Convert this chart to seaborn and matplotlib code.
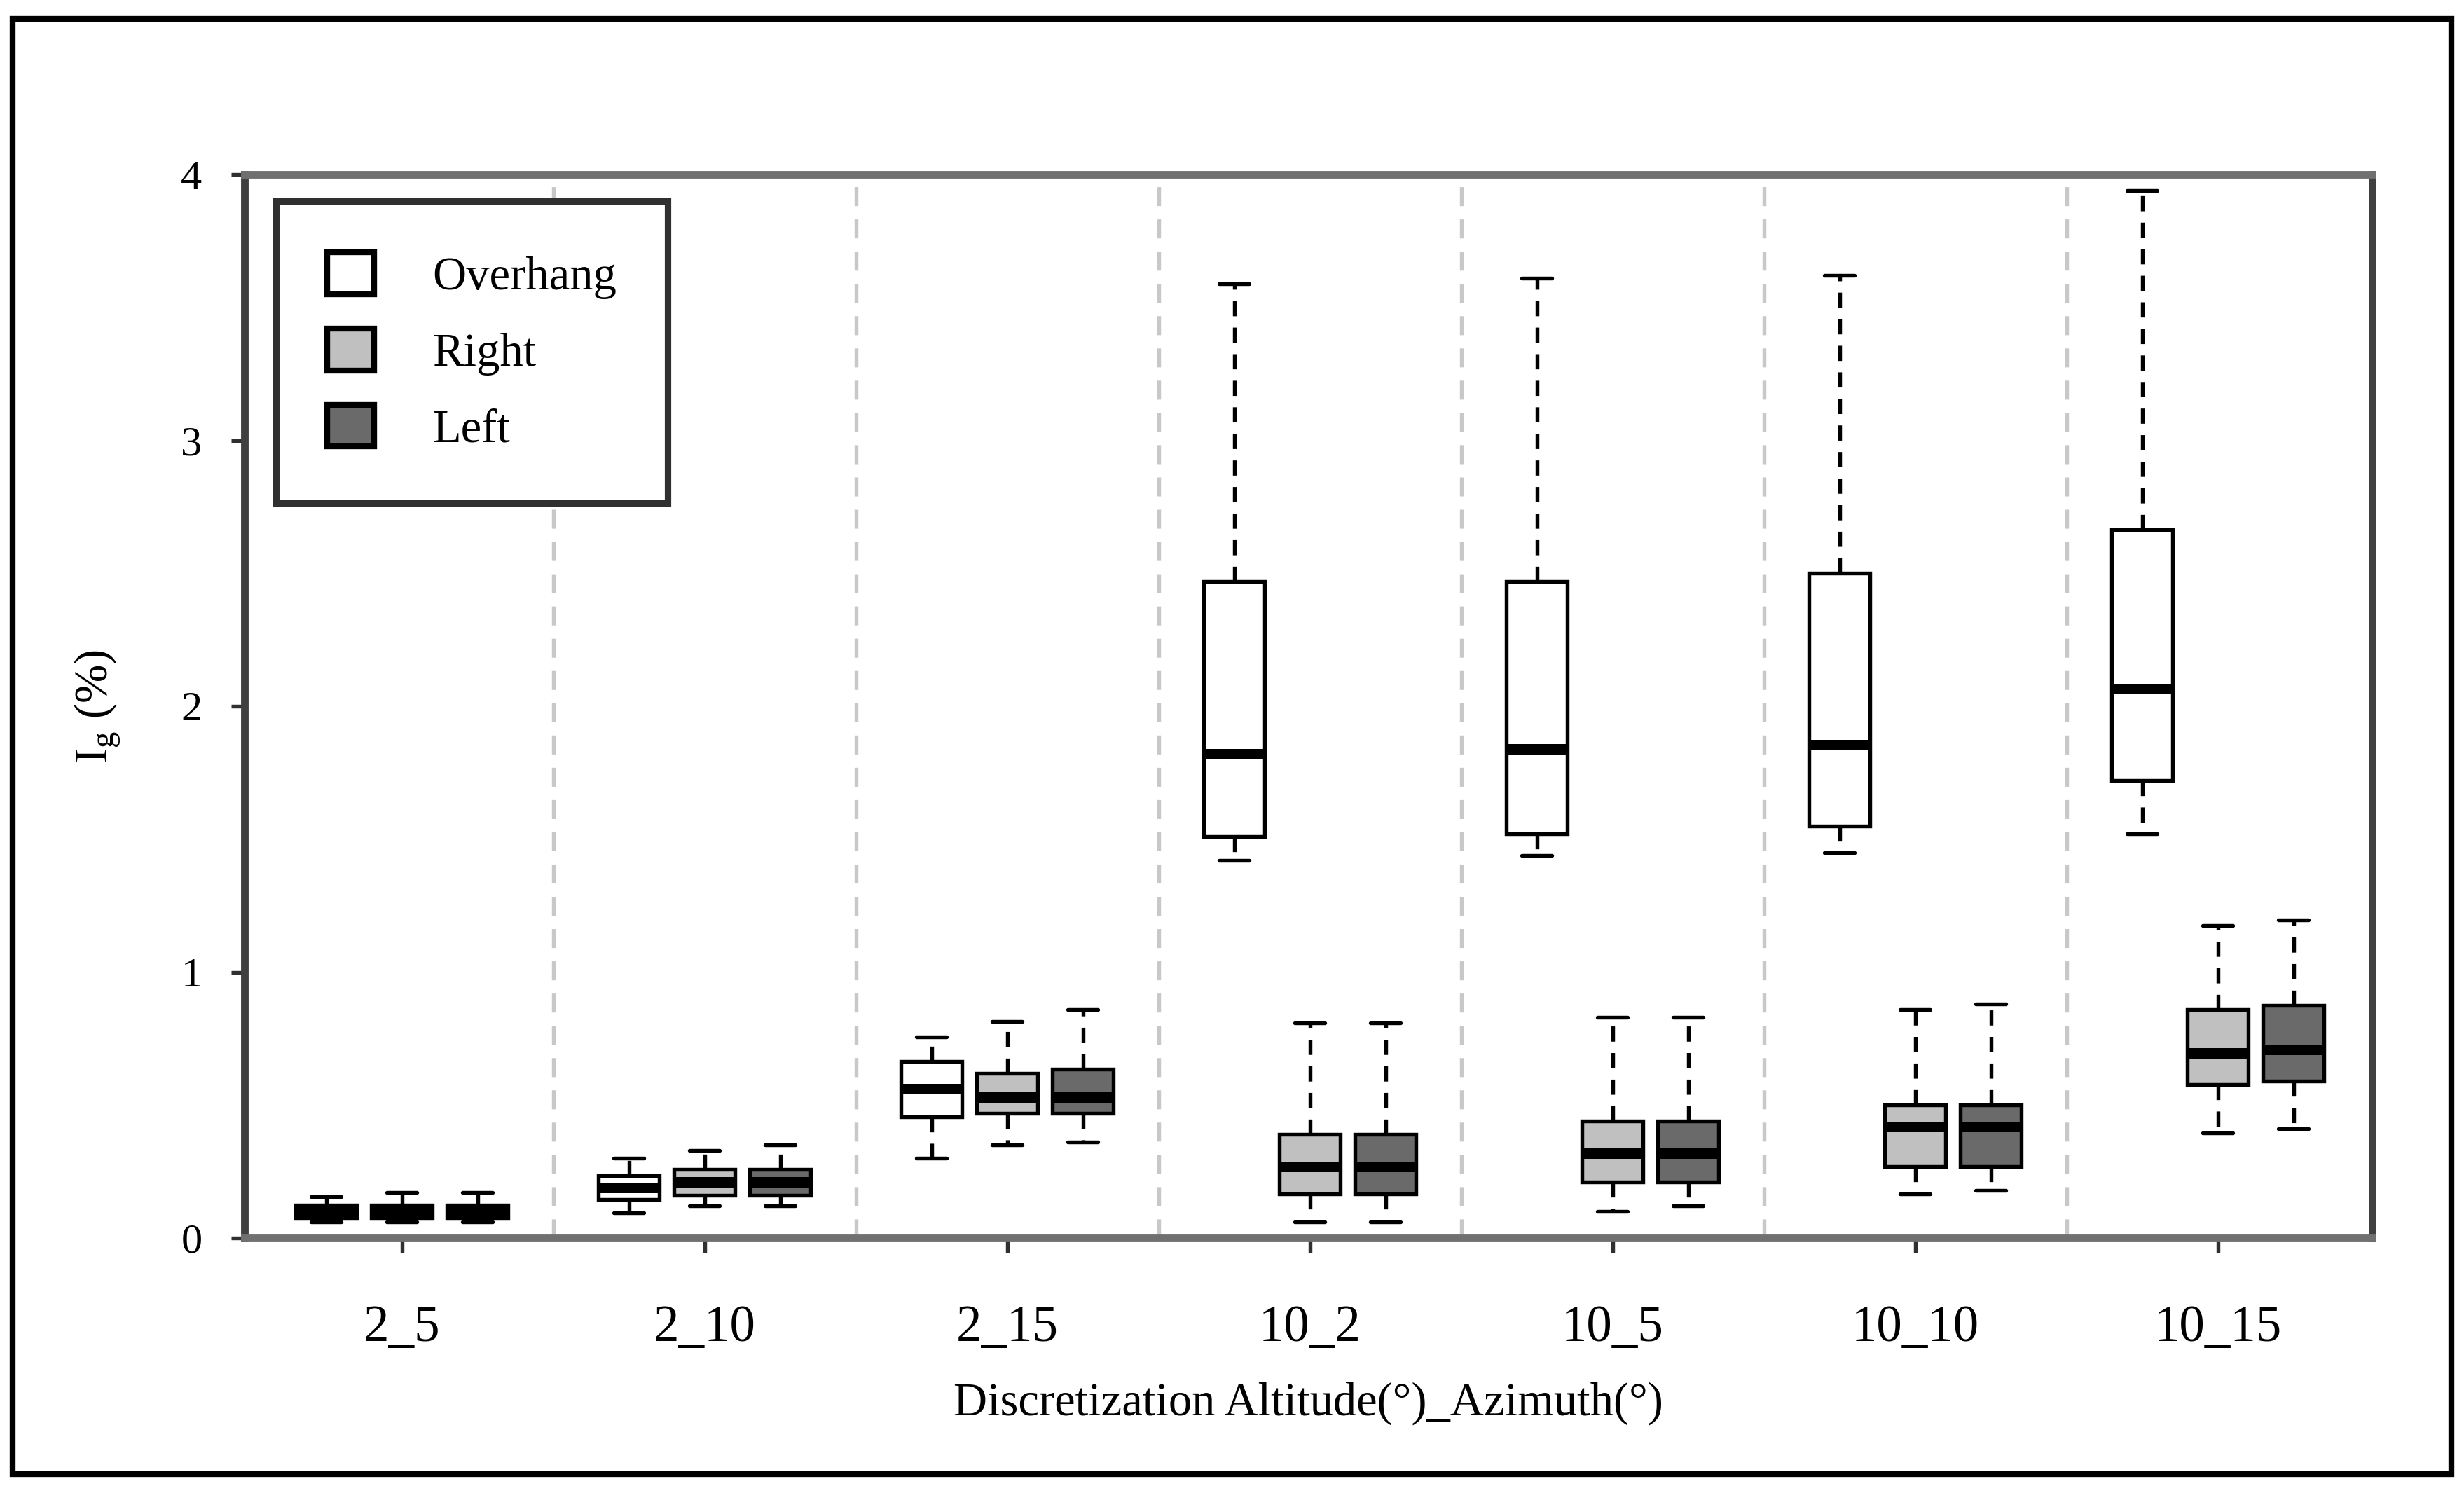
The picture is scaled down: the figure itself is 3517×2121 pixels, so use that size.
import numpy as np
import pandas as pd
import matplotlib
matplotlib.use("Agg")
import matplotlib.pyplot as plt
from matplotlib.patches import Patch, Rectangle
import seaborn as sns

# ---------------- data ----------------
categories = ["2_5", "2_10", "2_15", "10_2", "10_5", "10_10", "10_15"]
series = ["Overhang", "Right", "Left"]
# per category: [lower whisker, Q1, median, Q3, upper whisker]
overhang = [
    [0.060, 0.075, 0.100, 0.125, 0.155],
    [0.095, 0.145, 0.190, 0.235, 0.300],
    [0.300, 0.455, 0.560, 0.665, 0.755],
    [1.420, 1.510, 1.820, 2.470, 3.590],
    [1.440, 1.520, 1.840, 2.470, 3.610],
    [1.450, 1.550, 1.855, 2.500, 3.620],
    [1.520, 1.720, 2.065, 2.665, 3.940],
]
right = [
    [0.060, 0.075, 0.100, 0.125, 0.170],
    [0.120, 0.160, 0.210, 0.258, 0.330],
    [0.350, 0.470, 0.530, 0.620, 0.815],
    [0.060, 0.167, 0.270, 0.390, 0.810],
    [0.100, 0.210, 0.320, 0.440, 0.830],
    [0.165, 0.270, 0.420, 0.500, 0.860],
    [0.395, 0.578, 0.695, 0.860, 1.175],
]
left = [
    [0.060, 0.075, 0.100, 0.125, 0.170],
    [0.120, 0.160, 0.210, 0.258, 0.350],
    [0.360, 0.470, 0.530, 0.635, 0.860],
    [0.060, 0.167, 0.270, 0.390, 0.810],
    [0.120, 0.210, 0.320, 0.440, 0.830],
    [0.180, 0.270, 0.420, 0.500, 0.880],
    [0.410, 0.590, 0.710, 0.875, 1.195],
]
yticks = [0, 1, 2, 3, 4]
colors = {"Overhang": "#ffffff", "Right": "#c0c0c0", "Left": "#6a6a6a"}

# long-form table: five values per box reproduce the five-number summary
rows = []
for name, vals in zip(series, [overhang, right, left]):
    for cat, five in zip(categories, vals):
        for v in five:
            rows.append({"category": cat, "series": name, "value": v})
df = pd.DataFrame(rows)

# ---------------- style ----------------
sns.set_style("white")
plt.rcParams["font.family"] = ["Liberation Serif", "DejaVu Serif"]
plt.rcParams["mathtext.fontset"] = "custom"
plt.rcParams["mathtext.rm"] = "Liberation Serif"
plt.rcParams["mathtext.it"] = "Liberation Serif:italic"
plt.rcParams["text.color"] = "black"
plt.rcParams["axes.labelcolor"] = "black"
plt.rcParams["xtick.color"] = "black"
plt.rcParams["ytick.color"] = "black"

W, H, DPI = 3517, 2121, 300
fig = plt.figure(figsize=(W / DPI, H / DPI), dpi=DPI)
ax = fig.add_axes([349 / W, 1 - 1767 / H, (3386 - 349) / W, (1767 - 249) / H])

# separators between categories
for i in range(len(categories) - 1):
    ax.axvline(i + 0.5, color="#c8c8c8", linestyle=(0, (5, 3.5)), linewidth=1.3, zorder=0)

sns.boxplot(
    data=df, x="category", y="value", hue="series",
    order=categories, hue_order=series, palette=colors, saturation=1,
    width=0.75, gap=0.2, whis=(0, 100), linecolor="black", linewidth=1.3,
    fliersize=0, legend=False, ax=ax,
    medianprops=dict(linewidth=3.6, color="black"),
    whiskerprops=dict(linestyle=(0, (4, 3))),
    capprops=dict(linewidth=1.3),
)

ax.set_xlim(-0.52, 6.51)
ax.set_ylim(0, 4)
ax.set_yticks(yticks)
ax.set_yticklabels([str(t) for t in yticks])
ax.grid(False)

for s in ["top", "bottom"]:
    ax.spines[s].set_color("#707070")
    ax.spines[s].set_linewidth(2.6)
for s in ["left", "right"]:
    ax.spines[s].set_color("#404040")
    ax.spines[s].set_linewidth(2.6)

ax.tick_params(axis="x", bottom=True, direction="out", length=5, width=1.3,
               color="#303030", labelcolor="black", pad=18, labelsize=17.5)
ax.tick_params(axis="y", left=True, direction="out", length=4.5, width=1.3,
               color="#303030", labelcolor="black", pad=10, labelsize=14.5)

ax.set_xlabel("Discretization Altitude(°)_Azimuth(°)", fontsize=16, labelpad=10, color="black")
ax.set_ylabel(r"I$_{\mathrm{g}}$ (%)", fontsize=16, labelpad=20, color="black")

handles = [Patch(facecolor=colors[s], edgecolor="black", linewidth=2, label=s) for s in series]
leg = ax.legend(handles=handles, loc="upper left", bbox_to_anchor=(0.0148, 0.975),
                borderaxespad=0, frameon=True, fancybox=False, framealpha=1,
                edgecolor="#303030", fontsize=16, handlelength=1.0, handleheight=1.0,
                handletextpad=1.25, labelspacing=0.63, borderpad=1.1)
leg.get_frame().set_linewidth(2.2)
for t in leg.get_texts():
    t.set_color("black")

# outer frame around the figure
fig.patches.append(Rectangle((18 / W, 1 - 2104 / H), (3499 - 18) / W, (2104 - 27) / H,
                             transform=fig.transFigure, fill=False,
                             edgecolor="black", linewidth=2.0))

fig.savefig("out.png", dpi=DPI)
